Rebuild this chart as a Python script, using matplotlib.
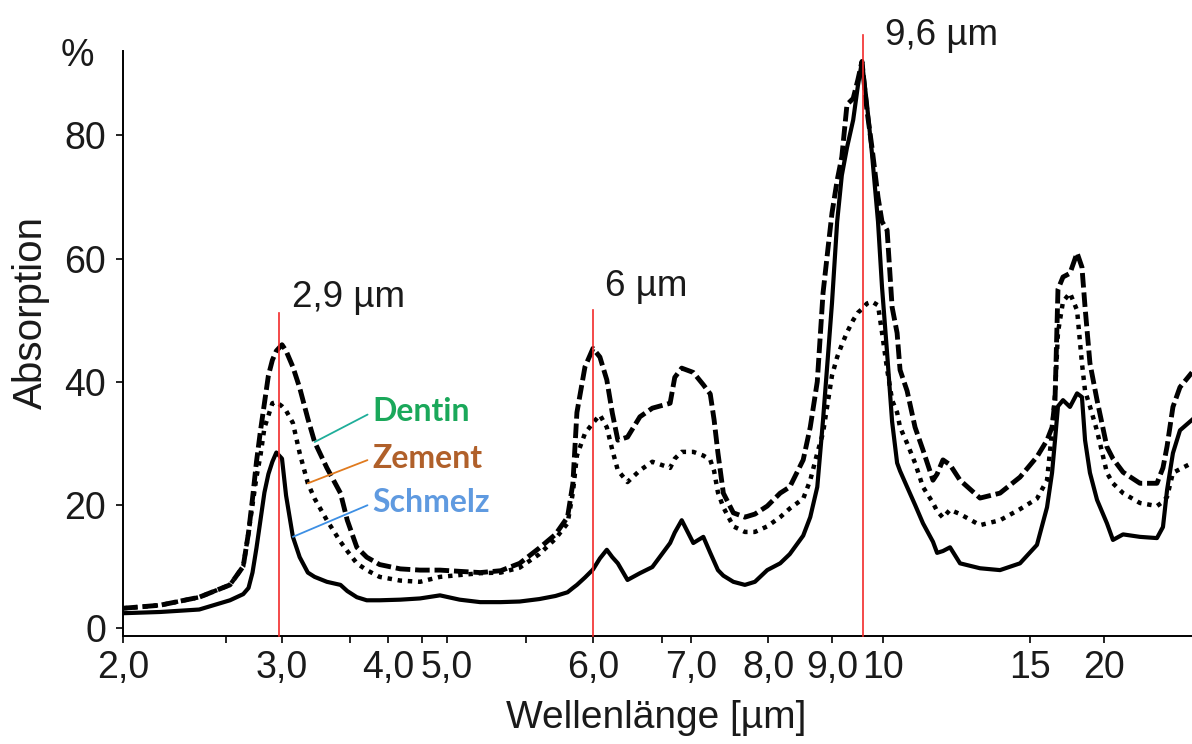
import numpy as np
import matplotlib.pyplot as plt

plt.rcParams['font.family'] = ['Liberation Sans', 'DejaVu Sans']

# IR absorption of dental hard tissue, read per wavelength (µm) in %
wavelength = [2.00, 2.18, 2.37, 2.53, 2.63, 2.67, 2.70, 2.73, 2.76, 2.79, 2.82, 2.85, 2.88,
              3.00, 3.03, 3.08, 3.13, 3.19, 3.24, 3.33, 3.43, 3.48, 3.59, 3.72, 3.89,
              4.18, 4.47, 4.86, 5.08, 5.21, 5.34, 5.46, 5.60, 5.72, 5.81, 5.85, 5.88, 5.94,
              6.00, 6.05, 6.10, 6.14, 6.18, 6.25, 6.34, 6.43, 6.64, 6.72, 6.84,
              7.03, 7.16, 7.25, 7.30, 7.35, 7.42, 7.55, 7.70, 7.83, 7.99,
              8.19, 8.34, 8.55, 8.66, 8.77, 8.86, 8.94,
              9.00, 9.10, 9.19, 9.29, 9.41, 9.50, 9.58, 9.68, 9.78, 9.90, 9.98,
              10.14, 10.31, 10.48, 10.58, 10.82, 11.09, 11.36, 11.70, 11.84, 12.04, 12.28,
              12.62, 13.30, 13.98, 14.66, 15.47, 16.15, 16.49, 16.69, 16.89, 17.23, 17.70,
              18.18, 18.51, 18.72, 19.05, 19.53, 20.20, 20.61, 21.30, 22.45, 23.61, 24.02,
              24.30, 24.70, 25.18, 26.00]

dentin = [3.2, 3.7, 5.0, 7.0, 10.0, 15.5, 21.0, 27.0, 32.0, 36.5, 41.0, 43.5, 45.0,
          46.0, 45.0, 42.4, 39.0, 34.0, 30.2, 26.0, 21.9, 17.5, 13.1, 11.5, 10.3,
          9.6, 9.4, 9.4, 9.2, 9.0, 9.3, 10.5, 13.0, 15.2, 18.0, 23.5, 35.0, 42.4,
          45.4, 44.0, 40.3, 34.9, 30.5, 31.0, 34.3, 35.7, 36.5, 40.7, 42.2,
          41.5, 39.5, 38.0, 33.8, 28.4, 21.9, 18.7, 18.0, 18.5, 19.8,
          21.9, 22.9, 27.3, 32.6, 40.0, 54.4, 61.9,
          67.4, 72.7, 76.5, 85.0, 86.0, 89.0, 92.0, 84.0, 78.0, 70.0, 66.0,
          64.6, 52.1, 47.9, 41.9, 38.5, 32.6, 28.9, 24.0, 25.0, 27.3, 26.5,
          24.0, 21.1, 21.9, 24.5, 27.8, 30.5, 32.6, 37.0, 55.0, 57.0, 57.6,
          60.9, 58.6, 52.1, 43.0, 37.0, 29.4, 27.5, 25.3, 23.5, 23.5, 26.0,
          29.5, 35.9, 39.1, 41.5]

zement = [3.2, 3.7, 5.0, 7.0, 10.0, 15.5, 20.0, 24.5, 28.0, 32.5, 34.5, 36.5, 36.7,
          36.0, 35.3, 33.3, 28.4, 23.5, 21.0, 17.5, 14.0, 12.5, 10.5, 9.4, 8.3,
          7.7, 7.5, 8.3, 8.6, 8.9, 9.0, 9.8, 12.0, 14.5, 17.0, 22.0, 28.0, 31.6,
          33.3, 34.6, 32.6, 28.9, 25.6, 23.7, 25.6, 27.0, 26.0, 27.5, 28.6,
          28.6, 28.0, 27.3, 25.5, 22.0, 19.6, 16.5, 15.6, 15.6, 16.5,
          18.0, 19.4, 21.0, 24.0, 28.4, 31.7, 37.0,
          41.0, 44.0, 46.0, 48.0, 50.0, 51.2, 51.8, 52.7, 53.0, 52.4, 48.0,
          42.0, 37.0, 35.0, 32.6, 30.0, 26.8, 22.9, 20.3, 19.0, 17.9, 19.2,
          18.5, 16.7, 17.5, 19.3, 21.0, 24.0, 32.0, 38.0, 48.0, 53.0, 54.4,
          51.6, 43.0, 38.5, 36.0, 32.0, 25.2, 23.5, 21.9, 20.3, 19.8, 20.5,
          21.3, 25.2, 25.8, 26.8]

schmelz = [2.4, 2.6, 3.0, 4.5, 5.5, 6.5, 9.0, 13.0, 17.5, 22.0, 25.0, 27.0, 28.5,
           27.5, 21.5, 14.8, 11.5, 9.0, 8.3, 7.5, 7.0, 6.0, 5.0, 4.5, 4.5,
           4.6, 4.8, 5.3, 4.6, 4.2, 4.2, 4.3, 4.7, 5.2, 5.8, 6.5, 7.0, 8.2,
           9.5, 11.3, 12.7, 11.5, 10.5, 7.8, 8.9, 9.9, 13.8, 15.5, 17.5,
           13.8, 14.8, 12.2, 10.8, 9.4, 8.5, 7.5, 7.0, 7.5, 9.4,
           10.5, 12.0, 15.0, 18.0, 22.9, 33.8, 44.6,
           52.8, 66.0, 73.5, 78.0, 82.5, 88.0, 92.0, 85.0, 77.0, 66.0, 55.4,
           44.6, 33.5, 26.8, 25.5, 22.9, 20.0, 17.0, 14.0, 12.2, 12.5, 13.1,
           10.5, 9.7, 9.4, 10.5, 13.5, 19.6, 25.2, 30.5, 36.0, 37.0, 35.9,
           38.1, 37.5, 30.5, 25.2, 20.8, 17.0, 14.3, 15.2, 14.8, 14.6, 16.4,
           22.4, 28.4, 32.1, 33.8]

marked_lines = [2.9, 6.0, 9.6]
marked_labels = ['2,9 µm', '6 µm', '9,6 µm']

x_ticks = [2.0, 3.0, 4.0, 5.0, 6.0, 7.0, 8.0, 9.0, 10, 15, 20]
x_ticklabels = ['2,0', '3,0', '4,0', '5,0', '6,0', '7,0', '8,0', '9,0', '10', '15', '20']
x_minor = [2.5, 3.5, 4.5, 5.5, 6.5]
y_ticks = [0, 20, 40, 60, 80]

# the wavelength axis is stretched piecewise (not linear, not log)
knot_wl = [2.0, 2.5, 2.9, 3.0, 3.5, 4.0, 4.5, 5.0, 5.5, 6.0, 6.5, 7.0, 8.0, 9.0, 9.6, 10, 15, 20, 26]
knot_pos = [0, 103, 156, 159, 227, 265, 299, 324, 403, 470, 539, 568, 645, 709, 740, 760, 907, 981, 1069]

def fwd(x):
    return np.interp(x, knot_wl, knot_pos)

def inv(p):
    return np.interp(p, knot_pos, knot_wl)

fig = plt.figure(figsize=(11.92, 7.44), dpi=100)
ax = fig.add_axes([123 / 1192, 108 / 744, 1069 / 1192, 585 / 744])
ax.set_xscale('function', functions=(fwd, inv))
ax.set_xlim(2.0, 26.0)
ax.set_ylim(-1.3, 93.7)

ax.plot(wavelength, dentin, color='black', lw=3.5, linestyle=(0, (3.0, 1.0)))
ax.plot(wavelength, zement, color='black', lw=3.2, linestyle=(0, (1.0, 1.3)))
ax.plot(wavelength, schmelz, color='black', lw=3.0)

# red marker lines with their labels
tops = [51.1, 51.6, 96.3]
text_pos = [(3.07, 50.8), (6.09, 52.6), (10.08, 93.4)]
for wl, top, lab, (tx, ty) in zip(marked_lines, tops, marked_labels, text_pos):
    ax.plot([wl, wl], [-1.3, top], color='#f22a2a', lw=1.2, clip_on=False, zorder=4)
    ax.text(tx, ty, lab, fontsize=26.5, color='#1a1a1a', ha='left', va='bottom', clip_on=False)

# tissue labels with leader lines to their curves
legend_items = [('Dentin', '#1aa85a', '#1fae9a', 35.1, 3.24, 30.2),
                ('Zement', '#b0602a', '#e07a1e', 27.6, 3.19, 23.5),
                ('Schmelz', '#5f9ae0', '#3d8fe4', 20.3, 3.08, 14.8)]
for name, tcol, lcol, ty, px, py in legend_items:
    ax.annotate(name, xy=(px, py), xytext=(3.80, ty), fontsize=23, fontweight='bold',
                family=['Lato', 'DejaVu Sans'], color=tcol, ha='left', va='center',
                arrowprops=dict(arrowstyle='-', color=lcol, lw=1.3, shrinkA=2, shrinkB=0,
                                relpos=(0, 0.5)))

ax.set_xticks(x_ticks)
ax.set_xticklabels(x_ticklabels)
ax.set_xticks(x_minor, minor=True)
ax.set_yticks(y_ticks)
ax.tick_params(axis='both', which='both', direction='out', length=5, width=1.2,
               labelsize=27, labelcolor='#1a1a1a', color='black')
ax.tick_params(axis='x', pad=5)
ax.tick_params(axis='y', pad=7)

for side in ['top', 'right']:
    ax.spines[side].set_visible(False)
for side in ['left', 'bottom']:
    ax.spines[side].set_linewidth(1.4)

fig.text(77 / 1192, 1 - 56 / 744, '%', fontsize=27, color='#1a1a1a', ha='center', va='center')
fig.text(31 / 1192, 1 - 312 / 744, 'Absorption', fontsize=29, rotation=90,
         color='#1a1a1a', ha='center', va='center')
fig.text(656 / 1192, 1 - 718 / 744, 'Wellenlänge [µm]', fontsize=28,
         color='#1a1a1a', ha='center', va='center')

fig.savefig('out.png', dpi=100)
